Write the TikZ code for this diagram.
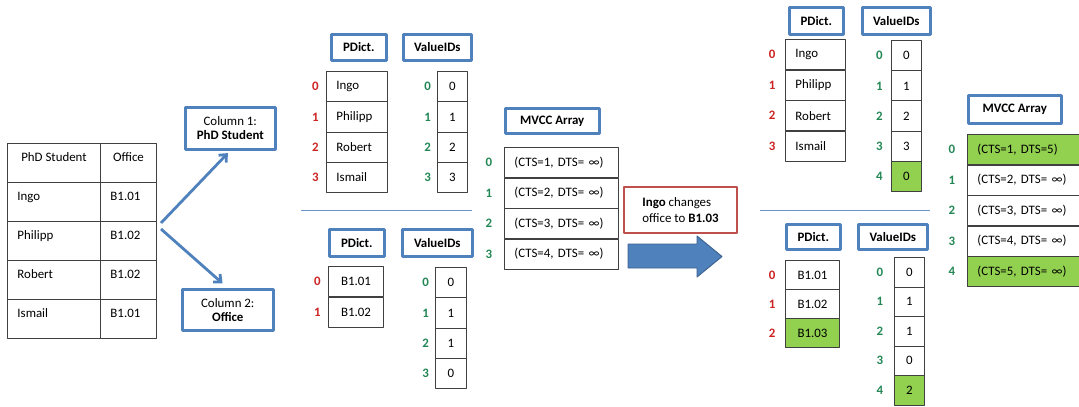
\documentclass[tikz,border=0pt]{standalone}
\usepackage{fontspec}
\setmainfont{Carlito}
\usetikzlibrary{positioning,arrows.meta}
\definecolor{boxblue}{RGB}{79,129,189}
\definecolor{idred}{RGB}{205,35,35}
\definecolor{idgreen}{RGB}{35,135,85}
\definecolor{newgreen}{RGB}{146,208,80}
\definecolor{boxred}{RGB}{192,80,77}
\newcommand{\pxu}{0.03cm}
\newcommand{\dfont}{\fontsize{11}{12}\selectfont}
\tikzset{
  title/.style={draw=boxblue,line width=2.2pt,fill=white,font={\dfont\bfseries},inner sep=0pt,anchor=north west},
  cell/.style={draw=black!75,line width=0.8pt,inner sep=0pt,anchor=north west,minimum height=30.4*\pxu},
  lft/.style={minimum width=#1*\pxu,text width=(#1-20)*\pxu,inner xsep=10*\pxu,align=left},
  tab/.style={minimum height=39*\pxu,text height=8pt,text depth=10pt},
  idx/.style={font={\dfont\bfseries},inner sep=0pt},
  forkarrow/.style={draw=boxblue,line width=2.4pt,-{Straight Barb[length=5pt,width=9pt]},shorten >=3pt},
  sepline/.style={draw=boxblue!85,line width=0.8pt},
  bigarrow/.style={fill=boxblue,draw=boxblue!75!black,line width=0.8pt}
}
\begin{document}
\begin{tikzpicture}[x=0.03cm,y=-0.03cm,font=\dfont,line join=round]
\useasboundingbox (0,0) rectangle (1079,406);

% source table
\node[cell,tab,minimum width=93*\pxu] (hd-st) at (7,143) {PhD Student};
\node[cell,tab,minimum width=56*\pxu] (hd-of) at (100,143) {Office};
\foreach \nm/\of [count=\r from 0] in {Ingo/B1.01,Philipp/B1.02,Robert/B1.02,Ismail/B1.01}{
  \node[cell,tab,lft=93] (st-\r) at (7,182+39*\r) {\nm};
  \node[cell,tab,lft=56] (of-\r) at (100,182+39*\r) {\of};
}

% split into columns
\node[title,font=\dfont,align=center,minimum width=90*\pxu,minimum height=42*\pxu] (col1) at (184,106) {Column 1:\\\textbf{PhD Student}};
\node[title,font=\dfont,align=center,minimum width=91*\pxu,minimum height=41*\pxu] (col2) at (181,288) {Column 2:\\\textbf{Office}};
\coordinate (forkA) at (161,223);
\coordinate (forkB) at (161,229);
\draw[forkarrow] (forkA) -- (col1.south);
\draw[forkarrow,shorten >=6pt] (forkB) -- (col2.north);

% column 1 before
\node[title,minimum width=55*\pxu,minimum height=26*\pxu] (pd1) at (330,33) {PDict.};
\node[title,minimum width=68*\pxu,minimum height=26*\pxu] (vi1) at (402,33) {ValueIDs};
\foreach \nm [count=\r from 0] in {Ingo,Philipp,Robert,Ismail}{
  \node[cell,lft=61] (pd1-\r) at (326,71+30.25*\r) {\nm};
  \node[idx,text=idred,left=6pt of pd1-\r] (pd1i-\r) {\r};
}
\foreach \v [count=\r from 0] in {0,1,2,3}{
  \node[cell,minimum width=30*\pxu] (vi1-\r) at (437,71+30.25*\r) {\v};
  \node[idx,text=idgreen,left=5pt of vi1-\r] (vi1i-\r) {\r};
}
\draw[sepline] (301,210) -- (472,210);

% column 2 before
\node[title,minimum width=55*\pxu,minimum height=27*\pxu] (pd2) at (328,228) {PDict.};
\node[title,minimum width=70*\pxu,minimum height=27*\pxu] (vi2) at (401,228) {ValueIDs};
\foreach \nm [count=\r from 0] in {B1.01,B1.02}{
  \node[cell,minimum width=55*\pxu] (pd2-\r) at (328,266+30.5*\r) {\nm};
  \node[idx,text=idred,left=6pt of pd2-\r] (pd2i-\r) {\r};
}
\foreach \v [count=\r from 0] in {0,1,1,0}{
  \node[cell,minimum width=31*\pxu] (vi2-\r) at (435,267+30.25*\r) {\v};
  \node[idx,text=idgreen,left=5pt of vi2-\r] (vi2i-\r) {\r};
}

% mvcc before
\node[title,minimum width=94*\pxu,minimum height=25*\pxu] (mv1) at (504,107) {MVCC Array};
\foreach \c [count=\r from 0] in {1,2,3,4}{
  \node[cell,lft=114] (mv1-\r) at (504,147+30.5*\r) {(CTS=\c, DTS= ∞)};
  \node[idx,text=idgreen,left=10pt of mv1-\r] (mv1i-\r) {\r};
}

% update
\node[draw=boxred,line width=2.2pt,align=left,minimum width=113*\pxu,minimum height=46*\pxu,inner sep=0pt,font=\fontsize{11}{13.5}\selectfont] (note) at (680.5,210) {\textbf{Ingo} changes\\office to \textbf{B1.03}};
\filldraw[bigarrow] (628,244) -- (697,244) -- (697,236) -- (722,256.5) -- (697,277) -- (697,268) -- (628,268) -- cycle;

% column 1 after
\node[title,minimum width=54*\pxu,minimum height=27*\pxu] (pd3) at (788,6) {PDict.};
\node[title,minimum width=68*\pxu,minimum height=27*\pxu] (vi3) at (861,6) {ValueIDs};
\foreach \nm [count=\r from 0] in {Ingo,Philipp,Robert,Ismail}{
  \node[cell,lft=60] (pd3-\r) at (785,39+30.5*\r) {\nm};
  \node[idx,text=idred,left=8pt of pd3-\r] (pd3i-\r) {\r};
}
\foreach \v/\f [count=\r from 0] in {0/white,1/white,2/white,3/white,0/newgreen}{
  \node[cell,fill=\f,minimum width=30*\pxu] (vi3-\r) at (891,40+30.2*\r) {\v};
  \node[idx,text=idgreen,left=7pt of vi3-\r] (vi3i-\r) {\r};
}
\draw[sepline] (760,210) -- (930,210);

% column 2 after
\node[title,minimum width=54*\pxu,minimum height=25*\pxu] (pd4) at (785,223) {PDict.};
\node[title,minimum width=69*\pxu,minimum height=25*\pxu] (vi4) at (857,223) {ValueIDs};
\foreach \nm/\f [count=\r from 0] in {B1.01/white,B1.02/white,B1.03/newgreen}{
  \node[cell,fill=\f,minimum width=54*\pxu,minimum height=29*\pxu] (pd4-\r) at (785,260+29*\r) {\nm};
  \node[idx,text=idred,left=8pt of pd4-\r] (pd4i-\r) {\r};
}
\foreach \v/\f [count=\r from 0] in {0/white,1/white,1/white,0/white,2/newgreen}{
  \node[cell,fill=\f,minimum width=30*\pxu,minimum height=29.5*\pxu] (vi4-\r) at (894,257+29.5*\r) {\v};
  \node[idx,text=idgreen,left=9pt of vi4-\r] (vi4i-\r) {\r};
}

% mvcc after
\node[title,minimum width=93*\pxu,minimum height=28*\pxu] (mv2) at (967,94) {MVCC Array};
\foreach \d/\f [count=\r from 0] in {5/newgreen,{ ∞}/white,{ ∞}/white,{ ∞}/white,{ ∞}/newgreen}{
  \node[cell,fill=\f,lft=115] (mv2-\r) at (967,134+30.5*\r) {(CTS=\the\numexpr\r+1\relax, DTS=\d)};
  \node[idx,text=idgreen,left=10pt of mv2-\r] (mv2i-\r) {\r};
}
\end{tikzpicture}
\end{document}
